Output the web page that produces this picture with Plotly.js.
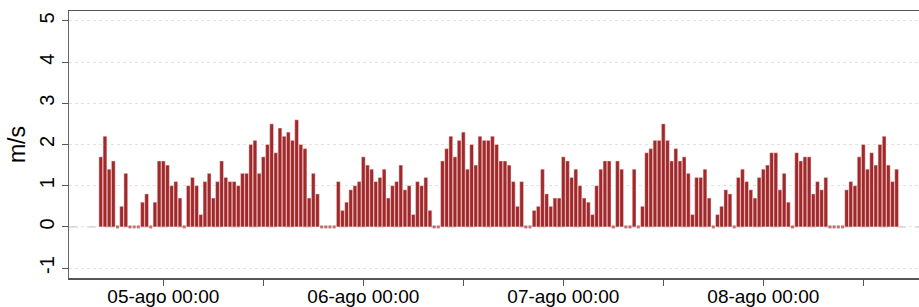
<!DOCTYPE html>
<html>
<head>
<meta charset="utf-8">
<script src="https://cdn.plot.ly/plotly-3.0.1.min.js"></script>
<style>
html,body{margin:0;padding:0;background:#fff;}
#chart{width:919px;height:307px;}
</style>
</head>
<body>
<div id="chart"></div>
<script>
// Half-hourly wind speed (m/s), 04-ago 16:30 to 08-ago 16:00
const startTime = '2024-08-04 16:30';
const stepMinutes = 30;
const windSpeed = [
  1.7, 2.2, 1.4, 1.6, 0, 0.5, 1.3, 0, 0, 0,
  0.6, 0.8, 0, 0.6, 1.6, 1.6, 1.5, 1.0, 1.1, 0.7,
  0, 1.0, 1.2, 1.0, 0.3, 1.1, 1.3, 0.7, 1.1, 1.6,
  1.2, 1.1, 1.1, 1.0, 1.3, 1.3, 2.0, 2.1, 1.3, 1.7,
  2.0, 2.5, 1.8, 2.4, 2.2, 2.3, 2.1, 2.6, 2.0, 1.9,
  0.7, 1.3, 0.8, 0, 0, 0, 0, 1.1, 0.4, 0.6,
  0.9, 1.0, 1.1, 1.7, 1.5, 1.4, 1.1, 1.2, 1.4, 0.7,
  1.0, 1.1, 1.5, 0.9, 1.0, 0.3, 1.1, 1.0, 1.2, 0.4,
  0, 0, 1.6, 1.9, 2.2, 1.7, 2.1, 2.3, 1.4, 2.0,
  1.5, 2.2, 2.1, 2.1, 2.2, 2.0, 1.6, 1.6, 1.5, 1.1,
  0.5, 1.1, 0, 0, 0.4, 0.5, 1.4, 0.8, 0.5, 0.7,
  0.7, 1.7, 1.6, 1.2, 1.4, 1.0, 0.7, 0.6, 0.3, 1.0,
  1.4, 1.6, 1.6, 0, 1.6, 1.4, 0, 0, 1.4, 0,
  0.5, 1.8, 1.9, 2.1, 2.1, 2.5, 2.1, 1.6, 1.9, 1.6,
  1.7, 1.3, 0.3, 1.2, 1.2, 1.4, 0.7, 0, 0.3, 0.5,
  0.9, 0.8, 0, 1.2, 1.4, 1.1, 0.9, 0.7, 1.2, 1.4,
  1.5, 1.8, 1.8, 0.9, 1.3, 0.6, 0, 1.8, 1.6, 1.7,
  1.7, 0.8, 1.1, 0.9, 1.2, 0, 0, 0, 0, 0.9,
  1.1, 1.0, 1.7, 2.0, 1.4, 1.8, 1.5, 2.0, 2.2, 1.5,
  1.1, 1.4
];
const tickVals = ['2024-08-05 00:00','2024-08-05 12:00','2024-08-06 00:00','2024-08-06 12:00',
                  '2024-08-07 00:00','2024-08-07 12:00','2024-08-08 00:00','2024-08-08 12:00'];
const tickText = ['05-ago 00:00','','06-ago 00:00','','07-ago 00:00','','08-ago 00:00',''];
const yTickVals = [-1, 0, 1, 2, 3, 4, 5];
const yTickText = ['-1', '0', '1', '2', '3', '4', '5'];
const yTitle = 'm/s';

function pad(n){return (n<10?'0':'')+n;}
function fmt(d){return d.getFullYear()+'-'+pad(d.getMonth()+1)+'-'+pad(d.getDate())+' '+pad(d.getHours())+':'+pad(d.getMinutes());}
const t0 = new Date(startTime.replace(' ','T'));
const times = windSpeed.map((v,i)=>fmt(new Date(t0.getTime()+i*stepMinutes*60000)));
const zeroTimes = times.filter((t,i)=>windSpeed[i]===0);
const zeroVals = zeroTimes.map(()=>0);

const barTrace = {
  type:'bar', x:times, y:windSpeed,
  width: stepMinutes*60000*0.9,
  marker:{color:'#a0292b', line:{color:'rgba(255,225,225,0.75)', width:0.6}},
  hoverinfo:'x+y'
};
const zeroTrace = {
  type:'scatter', mode:'markers', x:zeroTimes, y:zeroVals,
  marker:{symbol:'square', size:3, color:'rgba(170,60,60,0.7)', line:{width:0}},
  hoverinfo:'skip'
};

const layout = {
  width:919, height:307,
  margin:{l:69, r:0, t:11, b:29},
  paper_bgcolor:'#fff', plot_bgcolor:'#fff',
  showlegend:false,
  font:{family:'"Liberation Sans", Arial, Helvetica, sans-serif', color:'#000'},
  xaxis:{
    type:'date',
    range:['2024-08-04 12:41','2024-08-08 18:41'],
    tickmode:'array', tickvals:tickVals, ticktext:tickText,
    ticks:'outside', ticklen:6, tickcolor:'#555', tickwidth:1,
    ticklabelstandoff:-5,
    showgrid:false, zeroline:false,
    showline:true, linecolor:'#555', linewidth:1.5, mirror:true,
    tickfont:{size:19}
  },
  yaxis:{
    range:[-1.24, 5.24],
    tickmode:'array', tickvals:yTickVals, ticktext:yTickText,
    ticks:'outside', ticklen:6, tickcolor:'#555', tickwidth:1,
    tickangle:-90,
    tickfont:{size:20},
    showgrid:true, gridcolor:'#e2e2e2', griddash:'dot', gridwidth:1,
    zeroline:false,
    showline:true, linecolor:'#666', linewidth:1.5,
    title:{text:yTitle, font:{size:23}, standoff:3}
  },
  shapes:[{type:'line', xref:'paper', x0:0, x1:1, yref:'y', y0:0, y1:0,
           line:{color:'#b5b5b5', width:1, dash:'dash'}, layer:'below'}],
  bargap:0
};

Plotly.newPlot('chart',[barTrace, zeroTrace],layout,{displayModeBar:false, staticPlot:true});
</script>
</body>
</html>
